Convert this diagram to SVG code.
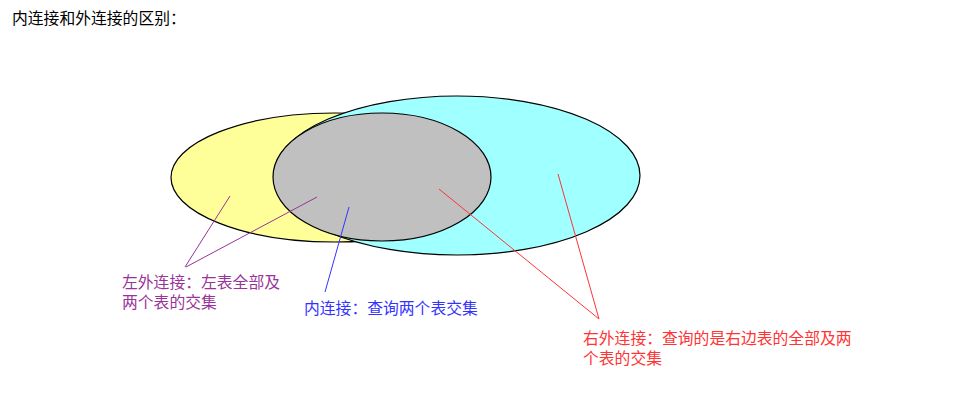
<svg xmlns="http://www.w3.org/2000/svg" width="969" height="413" viewBox="0 0 969 413">
<style>
text{font-family:"Liberation Sans","Noto Sans CJK SC",sans-serif;font-size:15.8px}
.set{stroke:#000;stroke-width:1.2}
.lead{fill:none;stroke-width:1}
</style>
<rect width="969" height="413" fill="#fff"/>
<text id="title" x="12" y="24" fill="#000">内连接和外连接的区别：</text>
<g id="left-table"><ellipse class="set" cx="335" cy="177.5" rx="164" ry="64.5" fill="#ffff99"/></g>
<g id="right-table"><ellipse class="set" cx="457" cy="175.5" rx="183" ry="79.5" fill="#a0ffff"/></g>
<g id="intersection"><ellipse class="set" cx="382" cy="177" rx="109" ry="64" fill="#c0c0c0"/></g>
<g id="connectors">
<path class="lead" stroke="#993399" d="M230 196L185 267M317 197L186 267"/>
<path class="lead" stroke="#3333ff" d="M349 207L325 292"/>
<path class="lead" stroke="#ff3333" d="M439 189L599 319M558 174L599 319"/>
</g>
<g id="label-left"><text x="122" y="288" fill="#993399">左外连接：左表全部及</text><text x="122" y="308" fill="#993399">两个表的交集</text></g>
<g id="label-inner"><text x="304" y="314" fill="#3333ff">内连接：查询两个表交集</text></g>
<g id="label-right"><text x="583" y="344" fill="#ff3333">右外连接：查询的是右边表的全部及两</text><text x="583" y="364" fill="#ff3333">个表的交集</text></g>
</svg>
